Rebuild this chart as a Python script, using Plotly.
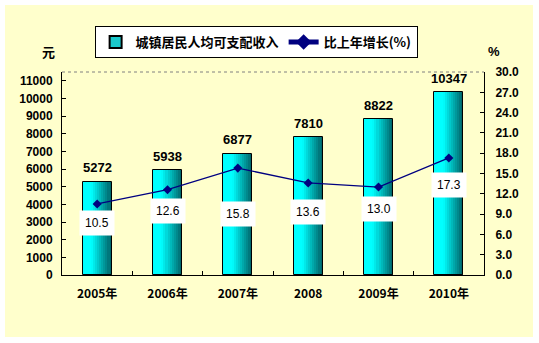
import plotly.graph_objects as go

categories = ["2005年", "2006年", "2007年", "2008", "2009年", "2010年"]
income = [5272, 5938, 6877, 7810, 8822, 10347]
growth = [10.5, 12.6, 15.8, 13.6, 13.0, 17.3]
growth_labels = ["10.5", "12.6", "15.8", "13.6", "13.0", "17.3"]
left_ticks = list(range(0, 12000, 1000))
right_ticks = [0, 3, 6, 9, 12, 15, 18, 21, 24, 27, 30]

# style
label_shift = [19, 21, 46, 29, 22, 27]
L, R, T, B = 62, 55, 72, 68
W, H = 539, 343
pw, ph = W - L - R, H - T - B
bar_w = 0.41
nslice = 14
def slice_color(f):
    if f < 0.3:
        return "rgb(0,255,255)"
    g = (f - 0.3) / 0.7
    c0, c1 = (0, 255, 255), (0, 95, 100)
    return "rgb(%d,%d,%d)" % tuple(round(a + (b - a) * g) for a, b in zip(c0, c1))

fig = go.Figure()
sw = bar_w / nslice
for i in range(nslice):
    fig.add_trace(go.Bar(
        x=categories, y=income, width=sw, offset=-bar_w / 2 + i * sw,
        marker=dict(color=slice_color((i + 0.5) / nslice), line=dict(width=0)),
        showlegend=False, hoverinfo="skip", yaxis="y"))

fig.add_trace(go.Bar(
    x=categories, y=income, width=bar_w,
    marker=dict(color="rgba(0,0,0,0)", line=dict(color="black", width=1)),
    showlegend=False, yaxis="y"))
fig.add_trace(go.Bar(
    x=[categories[0]], y=[None], name="城镇居民人均可支配收入",
    marker=dict(color="#1ac9cc", line=dict(color="black", width=1)), yaxis="y"))

fig.add_trace(go.Scatter(
    x=categories, y=growth, yaxis="y2", mode="lines+markers",
    name="比上年增长(%)",
    line=dict(color="#000080", width=1.3),
    marker=dict(symbol="diamond", size=7, color="#000080")))

for i, (v, t, s) in enumerate(zip(growth, growth_labels, label_shift)):
    fig.add_annotation(x=i, y=v, xref="x", yref="y2", text=t, showarrow=False,
                       yshift=-s, bgcolor="white", borderpad=5,
                       font=dict(family="Liberation Sans", size=12, color="black"))

for i, v in enumerate(income):
    fig.add_annotation(x=i, y=v, xref="x", yref="y", text="<b>%d</b>" % v, showarrow=False,
                       yshift=14, yanchor="middle",
                       font=dict(family="Liberation Sans", size=13, color="black"))

px = lambda p: (p - L) / pw
py = lambda p: (H - B - p) / ph
fig.add_shape(type="rect", xref="paper", yref="paper", layer="below",
              x0=px(5), x1=px(533), y0=py(337), y1=py(5),
              fillcolor="#FFFFCC", line=dict(width=0))
fig.add_shape(type="line", xref="paper", yref="paper", x0=0, x1=1, y0=1, y1=1,
              line=dict(color="#808080", width=1, dash="dot"))

fig.add_annotation(xref="paper", yref="paper", x=px(40), y=py(52), yanchor="middle",
                   yshift=0, text="<b>元</b>",
                   showarrow=False, font=dict(family="Noto Sans CJK SC", size=13, color="black"))
fig.add_annotation(xref="paper", yref="paper", x=px(502), y=py(52), yanchor="middle",
                   text="<b>%</b>",
                   showarrow=False, font=dict(family="Liberation Sans", size=13, color="black"))

tickfont = dict(family="Liberation Sans", size=12, color="black", weight="bold")
fig.update_layout(
    width=W, height=H, margin=dict(l=L, r=R, t=T, b=B),
    paper_bgcolor="white", plot_bgcolor="white",
    barmode="overlay", bargap=0,
    showlegend=True,
    legend=dict(orientation="h", x=0.46, y=py(42), xanchor="center", yanchor="middle",
                bgcolor="white", bordercolor="black", borderwidth=1,
                font=dict(family="Noto Sans CJK SC", size=13, color="black", weight="bold"),
                itemsizing="constant", tracegroupgap=0, itemwidth=30),
    xaxis=dict(type="category", categoryorder="array", categoryarray=categories,
               range=[-0.5, 5.5],
               showline=True, linecolor="black", linewidth=1, ticks="inside",
               tickson="boundaries", ticklen=4, tickcolor="black", mirror=False,
               tickangle=0,
               tickfont=dict(family="Noto Sans CJK SC", size=12, color="black", weight="bold"),
               ticklabelstandoff=8),
    yaxis=dict(range=[0, 11500], tickvals=left_ticks, tickformat="d", showgrid=False, zeroline=False,
               showline=True, linecolor="black", linewidth=1, ticks="inside", ticklen=4,
               tickcolor="black", tickfont=tickfont, ticklabelstandoff=6),
    yaxis2=dict(range=[0, 30], tickvals=right_ticks, tickformat=".1f", overlaying="y",
                side="right", showgrid=False, zeroline=False, showline=True,
                linecolor="black", linewidth=1, ticks="inside", ticklen=4,
                tickcolor="black", tickfont=tickfont, ticklabelstandoff=8),
)
fig.write_html("out.html")
